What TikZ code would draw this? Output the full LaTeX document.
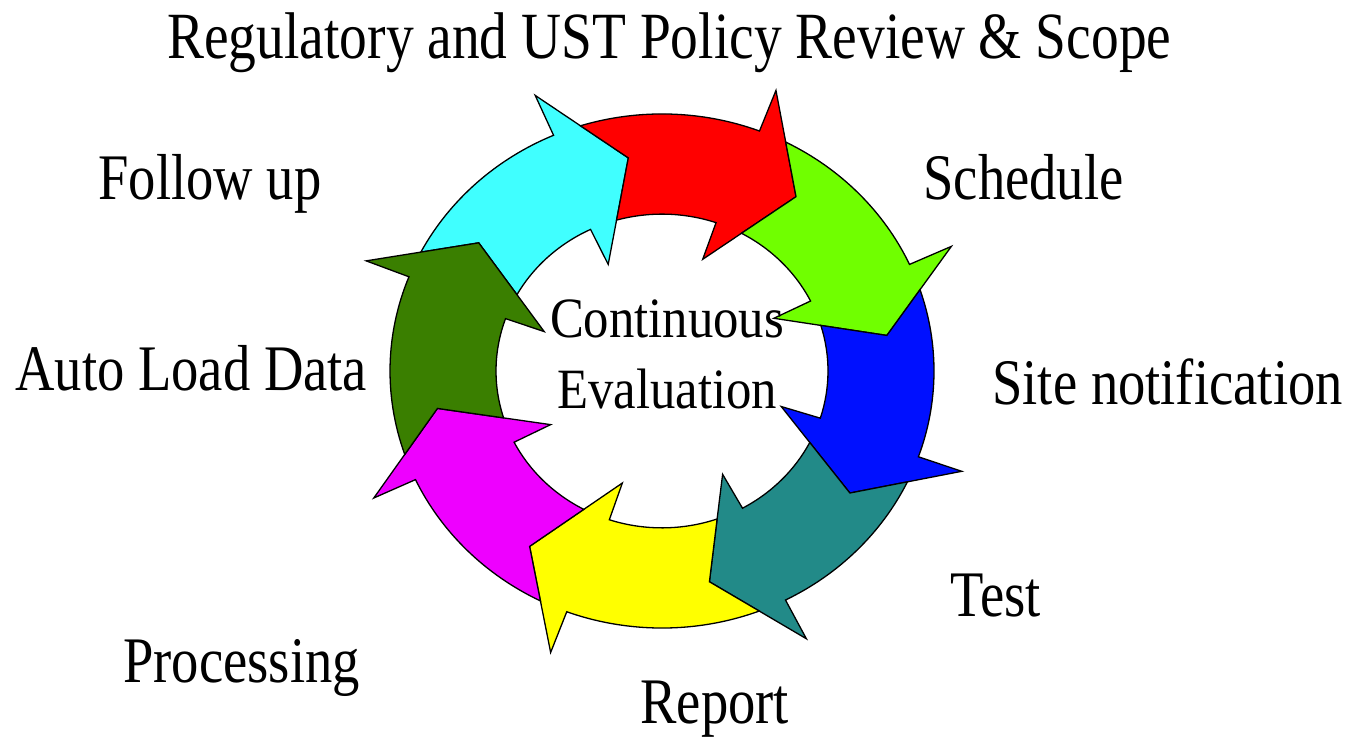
\documentclass[tikz,border=0pt]{standalone}
\usepackage{fontspec}
\setmainfont{Liberation Serif}
\usepackage{graphicx}
\definecolor{acyan}{RGB}{64,255,255}
\definecolor{ared}{RGB}{255,0,0}
\definecolor{agreen}{RGB}{112,255,0}
\definecolor{ablue}{RGB}{0,16,255}
\definecolor{ateal}{RGB}{34,138,136}
\definecolor{ayellow}{RGB}{255,255,0}
\definecolor{amagenta}{RGB}{238,0,255}
\definecolor{adkgreen}{RGB}{58,127,0}
\newcommand\sqz[1]{\scalebox{0.84}[1]{#1}}
\newcommand\sqc[1]{\scalebox{0.89}[1]{#1}}
\begin{document}
\begin{tikzpicture}[x=0.5pt,y=0.5pt,
  cyclearrow/.style={draw=black,line width=0.65pt,line join=miter},
  lbl/.style={anchor=base west,inner sep=0pt,font=\fontsize{32.5}{39}\selectfont},
  ttl/.style={anchor=base west,inner sep=0pt,font=\fontsize{33}{40}\selectfont},
  ctr/.style={anchor=center,inner sep=0pt,align=center,font=\fontsize{28.5}{35.5}\selectfont}]
\useasboundingbox (0,0) rectangle (1352,738);
\begin{scope}[shift={(662,367)},yscale=0.945]
% tip angle / previous tip angle / colour
\foreach \T/\P/\c in {98.5/143.5/acyan,54/98.5/ared,9.5/54/agreen,-34.5/9.5/ablue,-78/-34.5/ateal,-125.5/-78/ayellow,-170/-125.5/amagenta,-216.5/-170/adkgreen}{
  \draw[cyclearrow,fill=\c] (\P+8.95:272) arc[start angle=\P+8.95,end angle=\T+15,radius=272]
    -- (\T+15:318) -- (\T:228) -- (\T+17:125) -- (\T+17:166)
    arc[start angle=\T+17,end angle=\P+7.39,radius=166]
    -- (\P:228) -- cycle;
}
\end{scope}
\node[ttl] (title) at (167,679) {\sqz{Regulatory and UST Policy Review \& Scope}};
\node[lbl] (follow) at (98,538) {\sqz{Follow up}};
\node[lbl] (sched) at (923,538) {\sqz{Schedule}};
\node[lbl] (auto) at (15,347) {\sqz{Auto Load Data}};
\node[lbl] (site) at (992,333) {\sqz{Site notification}};
\node[lbl] (proc) at (123,56) {\sqz{Processing}};
\node[lbl] (report) at (640,15) {\sqz{Report}};
\node[lbl] (test) at (950,121) {\sqz{Test}};
\node[ctr] (center) at (667,384) {\sqc{Continuous}\\\sqc{Evaluation}};
\end{tikzpicture}
\end{document}
